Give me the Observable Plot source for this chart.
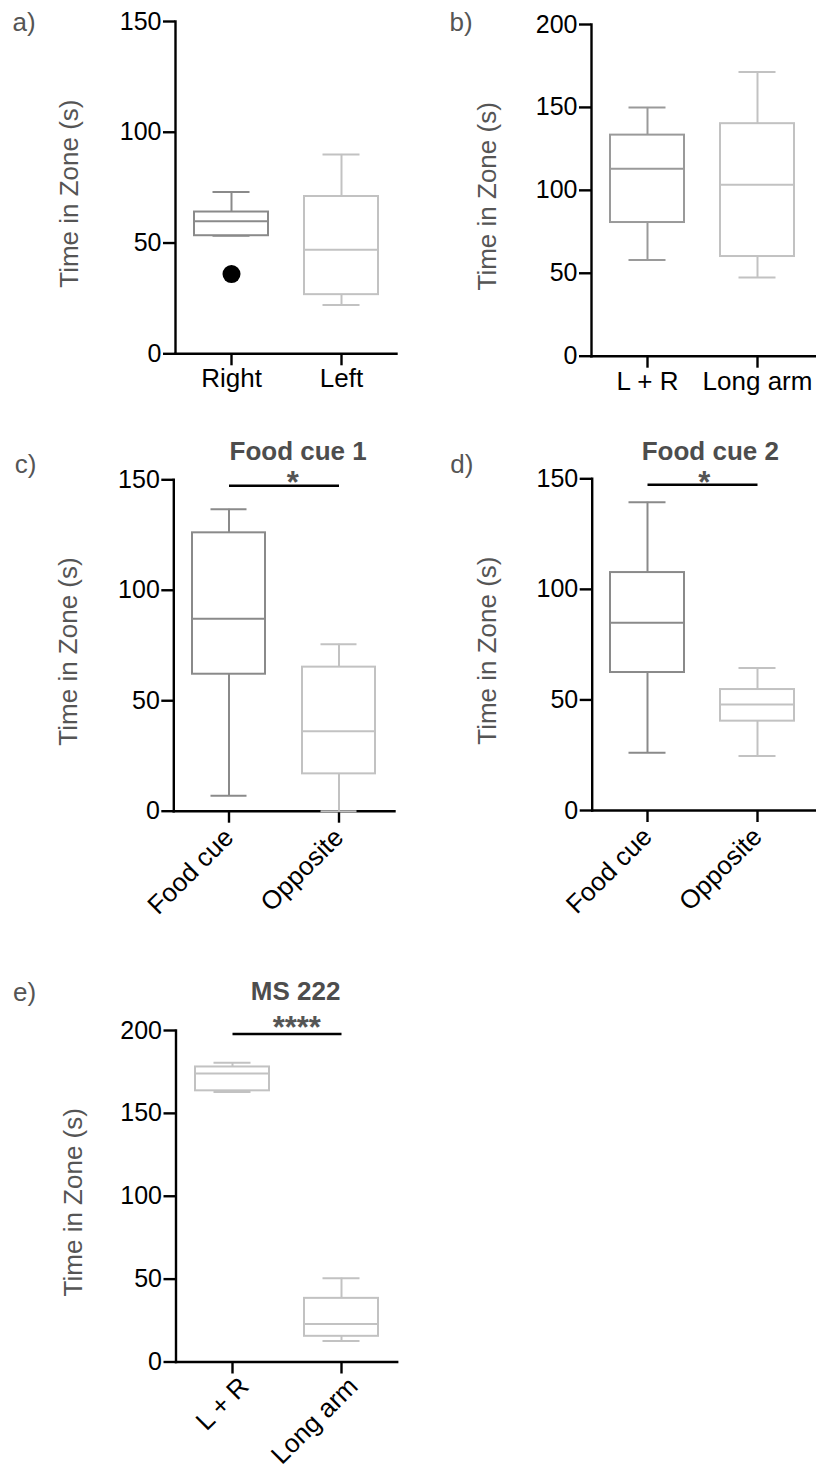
<!DOCTYPE html>
<html><head><meta charset="utf-8">
<script src="https://cdn.jsdelivr.net/npm/d3@7"></script>
<script src="https://cdn.jsdelivr.net/npm/@observablehq/plot@0.6"></script>
<style>
body{margin:0;background:#fff;}
#root{position:relative;width:816px;height:1469px;}
.panel{position:absolute;}
g[aria-label="stars-wide"] text{letter-spacing:4.5px;}
</style></head><body><div id="root"></div>
<script>
// ---------- data (five-number summaries) ----------
const aGroups = ["Right", "Left"];
const aMin = [53.3, 22], aQ1 = [53.3, 26.7], aMed = [59.8, 47], aQ3 = [64, 71], aMax = [73, 90];
const aOutlierGroups = ["Right"], aOutlierValues = [36];

const bGroups = ["L + R", "Long arm"];
const bMin = [58, 47.5], bQ1 = [80.6, 60.1], bMed = [113, 103.4], bQ3 = [133.3, 140.2], bMax = [150, 171.3];

const cGroups = ["Food cue", "Opposite"];
const cMin = [7, 0], cQ1 = [62, 16.9], cMed = [87.1, 36.2], cQ3 = [126, 65.2], cMax = [136.7, 75.6];

const dGroups = ["Food cue", "Opposite"];
const dMin = [26.1, 24.6], dQ1 = [62.4, 40.4], dMed = [84.9, 47.9], dQ3 = [107.6, 54.7], dMax = [139.4, 64.4];

const eGroups = ["L + R", "Long arm"];
const eMin = [162.9, 12.6], eQ1 = [163.6, 15.5], eMed = [174, 22.9], eQ3 = [178, 38.4], eMax = [180.6, 50.6];

const yTicks150 = [0, 50, 100, 150];
const yTicks200 = [0, 50, 100, 150, 200];
const yLabel = "Time in Zone (s)";
const panelLabels = ["a)", "b)", "c)", "d)", "e)"];
const titles = ["Food cue 1", "Food cue 2", "MS 222"];
const stars = ["*", "*", "****"];
const bracketLevels = [147.3, 147.3, 197.9];

// ---------- styles ----------
const DARK = "#8a8a8a", MID = "#9a9a9a", LIGHT = "#c2c2c2";
const FONT = '"Liberation Sans", Arial, Helvetica, sans-serif';

function makePanel(cfg) {
  const rows = cfg.groups.map((g, i) => ({
    group: g, i, min: cfg.min[i], q1: cfg.q1[i], med: cfg.med[i], q3: cfg.q3[i], max: cfg.max[i]
  }));
  const col = d => cfg.colors[d.i];
  const marks = [
    Plot.frame({anchor: "left", stroke: "#000", strokeWidth: 2.4}),
    Plot.frame({anchor: "bottom", stroke: "#000", strokeWidth: 2.4}),
    Plot.axisY({ticks: cfg.yTicks, tickSize: 12, tickPadding: 2, stroke: "#000", strokeWidth: 2.4,
      fill: "#000", fontSize: 25, label: null, tickFormat: d => String(d)}),
    Plot.axisX({tickSize: 12, text: null, stroke: "#000", strokeWidth: 2.4, label: null}),
    Plot.axisX({tickSize: 0, tickPadding: cfg.tickPad, tickRotate: cfg.rotate || 0, fill: "#000",
      fontSize: 26, label: null, dx: cfg.labDx || 0}),
    Plot.ruleX(rows, {x: "group", y1: "q3", y2: "max", stroke: col, strokeWidth: 2}),
    Plot.ruleX(rows, {x: "group", y1: "min", y2: "q1", stroke: col, strokeWidth: 2}),
    Plot.tickY(rows, {x: "group", y: "max", stroke: col, strokeWidth: 2, insetLeft: 18.5, insetRight: 18.5}),
    Plot.tickY(rows, {x: "group", y: "min", stroke: col, strokeWidth: 2, insetLeft: 18.5, insetRight: 18.5}),
    Plot.barY(rows, {x: "group", y1: "q1", y2: "q3", fill: "#fff", stroke: col, strokeWidth: 2}),
    Plot.tickY(rows, {x: "group", y: "med", stroke: col, strokeWidth: 2}),
    Plot.text([yLabel], {frameAnchor: "left", textAnchor: "middle", lineAnchor: "middle", rotate: -90,
      dx: cfg.ylDx, dy: 6, fontSize: 26, fill: "#555"}),
    Plot.text([cfg.panelLabel], {frameAnchor: "top-left", textAnchor: "start", lineAnchor: "middle",
      dx: cfg.plDx, dy: cfg.plDy, fontSize: 26, fill: "#555"})
  ];
  if (cfg.outGroups) {
    marks.push(Plot.dot(cfg.outGroups.map((g, i) => ({group: g, value: cfg.outValues[i]})),
      {x: "group", y: "value", r: 9, fill: "#000", stroke: "none"}));
  }
  if (cfg.title) {
    marks.push(Plot.text([cfg.title], {frameAnchor: "top", textAnchor: "middle", lineAnchor: "middle",
      dx: cfg.tDx, dy: cfg.tDy, fontSize: 26, fontWeight: "bold", fill: "#4d4d4d"}));
    marks.push(Plot.link([{a: cfg.groups[0], b: cfg.groups[1], y: cfg.bracket}],
      {x1: "a", x2: "b", y1: "y", y2: "y", stroke: "#000", strokeWidth: 2.4}));
    marks.push(Plot.text([cfg.stars], {frameAnchor: "top", textAnchor: "middle", lineAnchor: "middle",
      dx: cfg.sDx, dy: cfg.sDy, fontSize: 31, fontWeight: "bold", fill: "#555",
      ariaLabel: cfg.stars.length > 1 ? "stars-wide" : "stars"}));
  }
  const svg = Plot.plot({
    width: cfg.width, height: cfg.height,
    marginLeft: cfg.m[0], marginTop: cfg.m[1], marginRight: cfg.m[2], marginBottom: cfg.m[3],
    x: {type: "band", domain: cfg.groups, paddingInner: cfg.pi, paddingOuter: cfg.po, align: cfg.align},
    y: {domain: [0, cfg.yMax]},
    style: {fontFamily: FONT, fontSize: "25px", color: "#000", background: "transparent", overflow: "visible"},
    marks
  });
  const div = document.createElement("div");
  div.className = "panel";
  div.style.left = cfg.left + "px";
  div.style.top = cfg.top + "px";
  div.appendChild(svg);
  document.getElementById("root").appendChild(div);
}

makePanel({left: 0, top: 0, width: 408, height: 420, m: [175, 21, 12, 66.7],
  groups: aGroups, min: aMin, q1: aQ1, med: aMed, q3: aQ3, max: aMax, colors: [DARK, LIGHT],
  outGroups: aOutlierGroups, outValues: aOutlierValues,
  yMax: 150, yTicks: yTicks150, pi: 0.33, po: 0.166, align: 0.5, tickPad: 15,
  ylDx: -106, panelLabel: panelLabels[0], plDx: -163, plDy: 1});

makePanel({left: 408, top: 0, width: 408, height: 420, m: [183, 24, 0, 64.3],
  groups: bGroups, min: bMin, q1: bQ1, med: bMed, q3: bQ3, max: bMax, colors: [MID, LIGHT],
  yMax: 200, yTicks: yTicks200, pi: 0.33, po: 0.184, align: 0.45, tickPad: 15,
  ylDx: -104, panelLabel: panelLabels[1], plDx: -142, plDy: -2});

makePanel({left: 0, top: 420, width: 408, height: 480, m: [173.3, 59.3, 14, 89.3],
  groups: cGroups, min: cMin, q1: cQ1, med: cMed, q3: cQ3, max: cMax, colors: [DARK, LIGHT],
  yMax: 150, yTicks: yTicks150, pi: 0.335, po: 0.168, align: 0.5, tickPad: 22, rotate: -45,
  ylDx: -105, panelLabel: panelLabels[2], plDx: -159, plDy: -15.6,
  title: titles[0], tDx: 14, tDy: -28.6, bracket: bracketLevels[0], stars: stars[0], sDx: 8.6, sDy: 3.4});

makePanel({left: 408, top: 420, width: 408, height: 480, m: [183.7, 58.3, 0, 90],
  groups: dGroups, min: dMin, q1: dQ1, med: dMed, q3: dQ3, max: dMax, colors: [DARK, LIGHT],
  yMax: 150, yTicks: yTicks150, pi: 0.33, po: 0.179, align: 0.45, tickPad: 22, rotate: -45,
  ylDx: -105, panelLabel: panelLabels[3], plDx: -142, plDy: -14.6,
  title: titles[1], tDx: 6, tDy: -27.6, bracket: bracketLevels[1], stars: stars[1], sDx: 0, sDy: 4.4});

makePanel({left: 0, top: 900, width: 408, height: 569, m: [175.5, 130, 11.3, 107.5],
  groups: eGroups, min: eMin, q1: eQ1, med: eMed, q3: eQ3, max: eMax, colors: [LIGHT, LIGHT],
  yMax: 200, yTicks: yTicks200, pi: 0.325, po: 0.169, align: 0.5, tickPad: 20, rotate: -45, labDx: 12,
  ylDx: -102, panelLabel: panelLabels[4], plDx: -163, plDy: -38.3,
  title: titles[2], tDx: 9, tDy: -39.3, bracket: bracketLevels[2], stars: stars[2], sDx: 10.2, sDy: -2.8});
</script>
</body></html>
